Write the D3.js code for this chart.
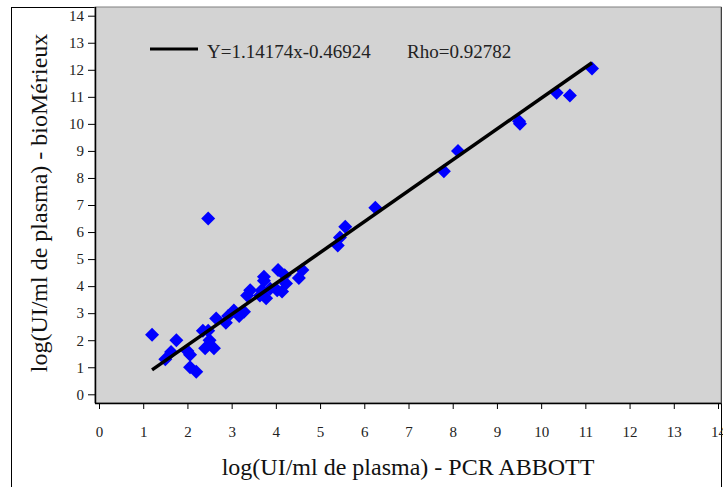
<!DOCTYPE html>
<html>
<head>
<meta charset="utf-8">
<script src="https://cdn.jsdelivr.net/npm/d3@7"></script>
<style>
  body { margin: 0; background: #fff; }
  svg { display: block; font-family: "Liberation Serif", "Times New Roman", serif; }
</style>
</head>
<body>
<svg id="chart" width="723" height="487"></svg>
<script>
// valeurs (log UI/ml)
const abbott = [1.2, 1.5, 1.63, 1.75, 2.0, 2.06, 2.06, 2.2, 2.35, 2.4, 2.47, 2.5, 2.6, 2.65,
  2.87, 2.92, 3.05, 3.17, 3.28, 3.35, 3.42, 3.64, 3.68, 3.73, 3.73, 3.78, 3.87, 4.03, 4.05,
  4.14, 4.2, 4.23, 4.52, 4.6, 5.4, 5.45, 5.57, 6.25, 7.8, 8.12, 9.5, 9.52, 10.35, 10.65, 11.15, 2.47];
const biomerieux = [2.2, 1.3, 1.56, 2.0, 1.6, 1.46, 1.0, 0.83, 2.35, 1.7, 2.35, 2.0, 1.7, 2.8,
  2.65, 2.9, 3.1, 2.9, 3.05, 3.65, 3.85, 3.65, 3.85, 4.2, 4.35, 3.55, 3.9, 3.85, 4.6,
  3.8, 4.4, 4.1, 4.3, 4.6, 5.5, 5.8, 6.2, 6.9, 8.25, 9.0, 10.1, 10.0, 11.15, 11.05, 12.05, 6.5];
const xTicks = [0, 1, 2, 3, 4, 5, 6, 7, 8, 9, 10, 11, 12, 13, 14];
const yTicks = [0, 1, 2, 3, 4, 5, 6, 7, 8, 9, 10, 11, 12, 13, 14];
const slope = 1.14174, intercept = -0.46924;
const legendText = "Y=1.14174x-0.46924";
const rhoText = "Rho=0.92782";
const xTitle = "log(UI/ml de plasma) - PCR ABBOTT";
const yTitle = "log(UI/ml de plasma) - bioMérieux";

const svg = d3.select("#chart");
const plot = { left: 95, top: 7, right: 721, bottom: 403 };

// cadre extérieur
svg.append("rect")
  .attr("x", 11.5).attr("y", 7.5)
  .attr("width", 710).attr("height", 490)
  .attr("fill", "#fff").attr("stroke", "#000").attr("stroke-width", 1);

// zone de tracé grise
svg.append("rect")
  .attr("x", plot.left).attr("y", plot.top)
  .attr("width", plot.right - plot.left).attr("height", plot.bottom - plot.top)
  .attr("fill", "#d3d3d3").attr("stroke", "#808080").attr("stroke-width", 1);

const x = d3.scaleLinear().domain([0, 14]).range([99, 718]);
const y = d3.scaleLinear().domain([0, 14]).range([394.3, 15.7]);

// axes
const xAxis = svg.append("g")
  .attr("transform", `translate(0,${plot.bottom})`)
  .call(d3.axisBottom(x).tickValues(xTicks).tickSize(6).tickPadding(17).tickSizeOuter(0));
xAxis.select(".domain").attr("d", `M${plot.left},0.5H${plot.right}`);

const yAxis = svg.append("g")
  .attr("transform", `translate(${plot.left},0)`)
  .call(d3.axisLeft(y).tickValues(yTicks).tickSize(7).tickPadding(4).tickSizeOuter(0));
yAxis.select(".domain").attr("d", `M0.5,${plot.top}V${plot.bottom}`);

svg.selectAll(".tick text")
  .attr("font-family", "Liberation Serif, serif")
  .attr("font-size", 15).attr("fill", "#222");
svg.selectAll(".domain").attr("stroke", "#000").attr("stroke-width", 1.5);
svg.selectAll(".tick line").attr("stroke", "#000");

// points
const pts = abbott.map((v, i) => [v, biomerieux[i]]);
svg.append("g").selectAll("path")
  .data(pts)
  .join("path")
  .attr("transform", d => `translate(${x(d[0])},${y(d[1])})`)
  .attr("d", "M0,-7L7,0L0,7L-7,0Z")
  .attr("fill", "#0000ff");

// droite de régression
const [xmin, xmax] = d3.extent(abbott);
svg.append("line")
  .attr("x1", x(xmin)).attr("y1", y(slope * xmin + intercept))
  .attr("x2", x(xmax)).attr("y2", y(slope * xmax + intercept))
  .attr("stroke", "#000").attr("stroke-width", 3.5);

// légende
svg.append("line")
  .attr("x1", 150).attr("x2", 198).attr("y1", 49).attr("y2", 49)
  .attr("stroke", "#000").attr("stroke-width", 3);
svg.append("text").attr("x", 207).attr("y", 58)
  .attr("font-size", 19).attr("fill", "#222").text(legendText);
svg.append("text").attr("x", 407).attr("y", 58)
  .attr("font-size", 19).attr("fill", "#222").text(rhoText);

// titres des axes
svg.append("text")
  .attr("x", 408).attr("y", 475)
  .attr("text-anchor", "middle").attr("font-size", 24).attr("fill", "#111")
  .text(xTitle);
svg.append("text")
  .attr("transform", "translate(47,203) rotate(-90)")
  .attr("text-anchor", "middle").attr("font-size", 24).attr("fill", "#111")
  .text(yTitle);
</script>
</body>
</html>
